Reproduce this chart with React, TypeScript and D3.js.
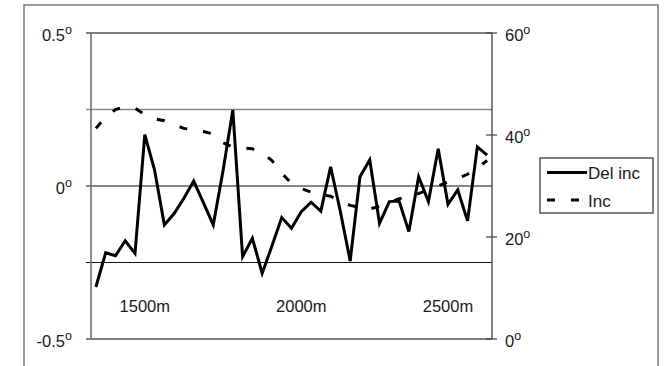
import React, { useEffect, useRef } from 'react'
import * as d3 from 'd3'

// Del inc (left axis, degrees) and Inc (right axis, degrees), one value per depth step
const delInc = [
  -0.33, -0.218, -0.228, -0.179, -0.22, 0.168, 0.052, -0.127, -0.09, -0.04,
  0.016, -0.055, -0.127, 0.05, 0.248, -0.231, -0.171, -0.285, -0.196, -0.103,
  -0.138, -0.084, -0.053, -0.082, 0.063, -0.084, -0.245, 0.03, 0.085, -0.122,
  -0.051, -0.049, -0.149, 0.03, -0.051, 0.122, -0.06, -0.013, -0.114, 0.128,
  0.101
]

const inc = [
  41.3, 43.5, 45, 45.5, 45.3, 44, 43.2, 42.8, 42, 41.3,
  41, 40.7, 40.2, 38.5, 37.6, 37.5, 37.3, 36.5, 35, 32.5,
  30.5, 29.5, 28.8, 28.3, 28, 27, 26.2, 25.8, 25.5, 26,
  26.8, 27.5, 28, 28.5, 29.3, 30, 30.8, 31.5, 32.3, 33.5,
  35
]

const xTickIndex = [5, 21, 36]
const xTickLabels = ['1500m', '2000m', '2500m']

const leftTicks = [-0.5, 0, 0.5]
const leftTickLabels = ['-0.5', '0', '0.5']
const leftGrid = [-0.25, 0, 0.25]
const rightTicks = [0, 20, 40, 60]

const seriesNames = ['Del inc', 'Inc']

const FONT = '"Liberation Sans", Arial, sans-serif'
const TEXT = '#1a1a1a'

export default function App() {
  const svgRef = useRef<SVGSVGElement>(null)

  useEffect(() => {
    if (!svgRef.current) return
    const svg = d3.select(svgRef.current)
    svg.selectAll('*').remove()

    const left = 91
    const right = 492
    const top = 33
    const bottom = 339

    const x = d3.scalePoint<number>()
      .domain(d3.range(delInc.length))
      .range([left, right])
      .padding(0.5)
    const yL = d3.scaleLinear().domain([-0.5, 0.5]).range([bottom, top])
    const yR = d3.scaleLinear().domain([0, 60]).range([bottom, top])

    // outer frame
    svg.append('rect')
      .attr('x', 24).attr('y', 5)
      .attr('width', 634).attr('height', 380)
      .attr('fill', 'white')
      .attr('stroke', '#7a7a7a')
      .attr('stroke-width', 1.5)

    // gridlines
    svg.append('g')
      .selectAll('line')
      .data(leftGrid)
      .join('line')
      .attr('x1', left - 5).attr('x2', right)
      .attr('y1', d => yL(d)).attr('y2', d => yL(d))
      .attr('stroke', d => (d > 0 ? '#888' : '#111'))
      .attr('stroke-width', d => (d > 0 ? 1.6 : 1))

    // plot borders (top/bottom at ±0.5)
    svg.append('g')
      .selectAll('line')
      .data([0.5, -0.5])
      .join('line')
      .attr('x1', left - 5).attr('x2', right)
      .attr('y1', d => yL(d)).attr('y2', d => yL(d))
      .attr('stroke', '#808080')
      .attr('stroke-width', 1.8)

    // left axis
    svg.append('line')
      .attr('x1', left).attr('x2', left)
      .attr('y1', top).attr('y2', bottom)
      .attr('stroke', '#707070').attr('stroke-width', 1.6)

    // right axis + ticks
    svg.append('line')
      .attr('x1', right).attr('x2', right)
      .attr('y1', top).attr('y2', bottom)
      .attr('stroke', '#404040').attr('stroke-width', 1.3)
    svg.append('g')
      .selectAll('line')
      .data(rightTicks)
      .join('line')
      .attr('x1', right - 6).attr('x2', right + 5)
      .attr('y1', d => yR(d)).attr('y2', d => yR(d))
      .attr('stroke', '#404040').attr('stroke-width', 1.2)

    // series
    const solid = d3.line<number>().x((_, i) => x(i)!).y(d => yL(d))
    const dashed = d3.line<number>().x((_, i) => x(i)!).y(d => yR(d))

    svg.append('path')
      .datum(delInc)
      .attr('d', solid)
      .attr('fill', 'none')
      .attr('stroke', '#000')
      .attr('stroke-width', 3)
      .attr('stroke-linejoin', 'miter')

    svg.append('path')
      .datum(inc)
      .attr('d', dashed)
      .attr('fill', 'none')
      .attr('stroke', '#000')
      .attr('stroke-width', 3)
      .attr('stroke-dasharray', '8,16')

    const degLabel = (
      sel: d3.Selection<SVGTextElement, any, any, any>,
      txt: (d: any, i: number) => string
    ) => {
      sel.append('tspan').text(txt)
      sel.append('tspan').attr('font-size', 12.5).attr('dy', -7.5).text('o')
    }

    // left labels
    const lt = svg.append('g')
      .selectAll('text')
      .data(leftTicks)
      .join('text')
      .attr('x', 72)
      .attr('y', d => yL(d) + 8)
      .attr('text-anchor', 'end')
      .attr('font-family', FONT)
      .attr('font-size', 16.5)
      .attr('fill', TEXT)
    degLabel(lt as any, (_, i) => leftTickLabels[i])

    // right labels
    const rt = svg.append('g')
      .selectAll('text')
      .data(rightTicks)
      .join('text')
      .attr('x', 505)
      .attr('y', d => yR(d) + 8)
      .attr('font-family', FONT)
      .attr('font-size', 16.5)
      .attr('fill', TEXT)
    degLabel(rt as any, d => String(d))

    // depth labels
    svg.append('g')
      .selectAll('text')
      .data(xTickIndex)
      .join('text')
      .attr('x', d => x(d)!)
      .attr('y', 312)
      .attr('text-anchor', 'middle')
      .attr('font-family', FONT)
      .attr('font-size', 16.5)
      .attr('fill', TEXT)
      .text((_, i) => xTickLabels[i])

    // legend
    const lg = svg.append('g')
    lg.append('rect')
      .attr('x', 540).attr('y', 158)
      .attr('width', 113).attr('height', 55)
      .attr('fill', 'white')
      .attr('stroke', '#555').attr('stroke-width', 1.5)
    lg.append('line')
      .attr('x1', 547).attr('x2', 587)
      .attr('y1', 172.5).attr('y2', 172.5)
      .attr('stroke', '#000').attr('stroke-width', 3)
    lg.append('line')
      .attr('x1', 547).attr('x2', 587)
      .attr('y1', 200).attr('y2', 200)
      .attr('stroke', '#000').attr('stroke-width', 3)
      .attr('stroke-dasharray', '8,16')
    lg.selectAll('text.lab')
      .data(seriesNames)
      .join('text')
      .attr('class', 'lab')
      .attr('x', 588)
      .attr('y', (_, i) => 178.5 + i * 28)
      .attr('font-family', FONT)
      .attr('font-size', 17)
      .attr('fill', TEXT)
      .text(d => d)
  }, [])

  return (
    <div style={{ position: 'fixed', left: 0, top: 0, width: 666, height: 366, background: 'white' }}>
      <svg ref={svgRef} width={666} height={366} style={{ display: 'block' }} />
    </div>
  )
}
